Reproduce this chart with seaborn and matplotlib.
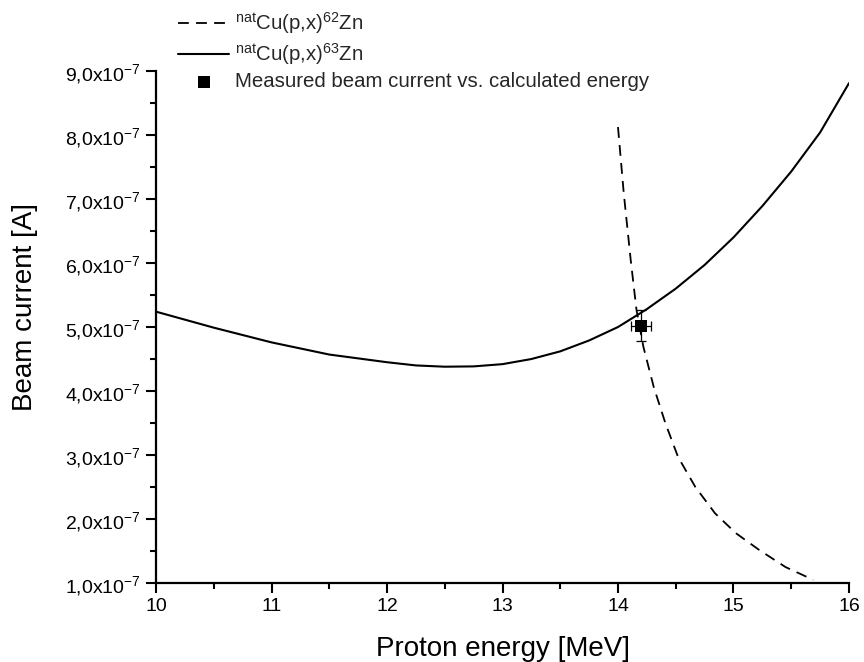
import numpy as np
import pandas as pd
import matplotlib
matplotlib.use("Agg")
import matplotlib.pyplot as plt
import seaborn as sns
from matplotlib.ticker import MultipleLocator, FixedLocator, FixedFormatter

# --- data (y values in units of 1e-7 A) ---
zn63_energy = [10.0, 10.5, 11.0, 11.5, 12.0, 12.25, 12.5, 12.75, 13.0, 13.25, 13.5,
               13.75, 14.0, 14.25, 14.5, 14.75, 15.0, 15.25, 15.5, 15.75, 16.0]
zn63_current = [5.24, 4.99, 4.76, 4.57, 4.45, 4.40, 4.38, 4.385, 4.42, 4.50, 4.62,
                4.79, 5.00, 5.28, 5.60, 5.97, 6.40, 6.89, 7.43, 8.04, 8.81]

zn62_energy = [14.0, 14.05, 14.11, 14.16, 14.22, 14.31, 14.41, 14.52, 14.67, 14.84,
               15.02, 15.22, 15.45, 15.69]
zn62_current = [8.125, 7.09, 6.05, 5.27, 4.69, 4.06, 3.50, 2.97, 2.50, 2.09,
                1.78, 1.52, 1.25, 1.05]

meas_energy = [14.2]
meas_current = [5.02]
meas_energy_err = [0.09]
meas_current_err = [0.24]

ytick_values = [1, 2, 3, 4, 5, 6, 7, 8, 9]
ytick_labels = [r"%d,0x10$^{\mathregular{-7}}$" % v for v in ytick_values]
xtick_values = [10, 11, 12, 13, 14, 15, 16]

labels = [r"$\mathregular{^{nat}Cu(p{,}x)^{62}Zn}$",
          r"$\mathregular{^{nat}Cu(p{,}x)^{63}Zn}$",
          "Measured beam current vs. calculated energy"]

sns.set_theme(style="ticks")
plt.rcParams["font.family"] = ["Liberation Sans", "DejaVu Sans"]
plt.rcParams["mathtext.fontset"] = "custom"
plt.rcParams["mathtext.rm"] = "Liberation Sans"
plt.rcParams["mathtext.it"] = "Liberation Sans:italic"

fig = plt.figure(figsize=(8.64, 6.62), dpi=100)
ax = fig.add_axes([0.1806, 0.1193, 0.8020, 0.7734])

df62 = pd.DataFrame({"E": zn62_energy, "I": zn62_current})
df63 = pd.DataFrame({"E": zn63_energy, "I": zn63_current})
sns.lineplot(data=df62, x="E", y="I", ax=ax, color="black", linestyle=(0, (6, 4)),
             linewidth=1.3, sort=False, label=labels[0])
sns.lineplot(data=df63, x="E", y="I", ax=ax, color="black", linewidth=1.5,
             label=labels[1])
ax.errorbar(meas_energy, meas_current, xerr=meas_energy_err, yerr=meas_current_err,
            fmt="none", ecolor="black", elinewidth=0.9, capsize=3.5, capthick=0.9, zorder=4)
sns.scatterplot(x=meas_energy, y=meas_current, ax=ax, marker="s", s=70, color="black",
                linewidth=0, zorder=5, label=labels[2])

ax.set_xlim(10, 16)
ax.set_ylim(1, 9)
ax.xaxis.set_major_locator(FixedLocator(xtick_values))
ax.xaxis.set_minor_locator(MultipleLocator(0.5))
ax.yaxis.set_major_locator(FixedLocator(ytick_values))
ax.yaxis.set_major_formatter(FixedFormatter(ytick_labels))
ax.yaxis.set_minor_locator(MultipleLocator(0.5))
ax.tick_params(which="major", direction="out", length=7, width=1.5, labelsize=14,
               color="black", labelcolor="black", pad=4)
ax.tick_params(which="minor", direction="out", length=4, width=1.5, color="black")
for s in ["left", "bottom"]:
    ax.spines[s].set_linewidth(1.6)
    ax.spines[s].set_color("black")
sns.despine(ax=ax)

ax.set_xlabel("Proton energy [MeV]", fontsize=20, color="black", labelpad=15)
ax.set_ylabel("Beam current [A]", fontsize=20, color="black")
ax.yaxis.set_label_coords(-0.170, 0.54)

handles, lbls = ax.get_legend_handles_labels()
ax.get_legend().remove()
fig.legend(handles, lbls, loc="upper left", bbox_to_anchor=(0.206, 0.984),
           frameon=False, fontsize=14.7, handlelength=2.5, handletextpad=0.3,
           labelspacing=0.24, borderpad=0, borderaxespad=0)

fig.savefig("out.png", dpi=100, facecolor="white")
